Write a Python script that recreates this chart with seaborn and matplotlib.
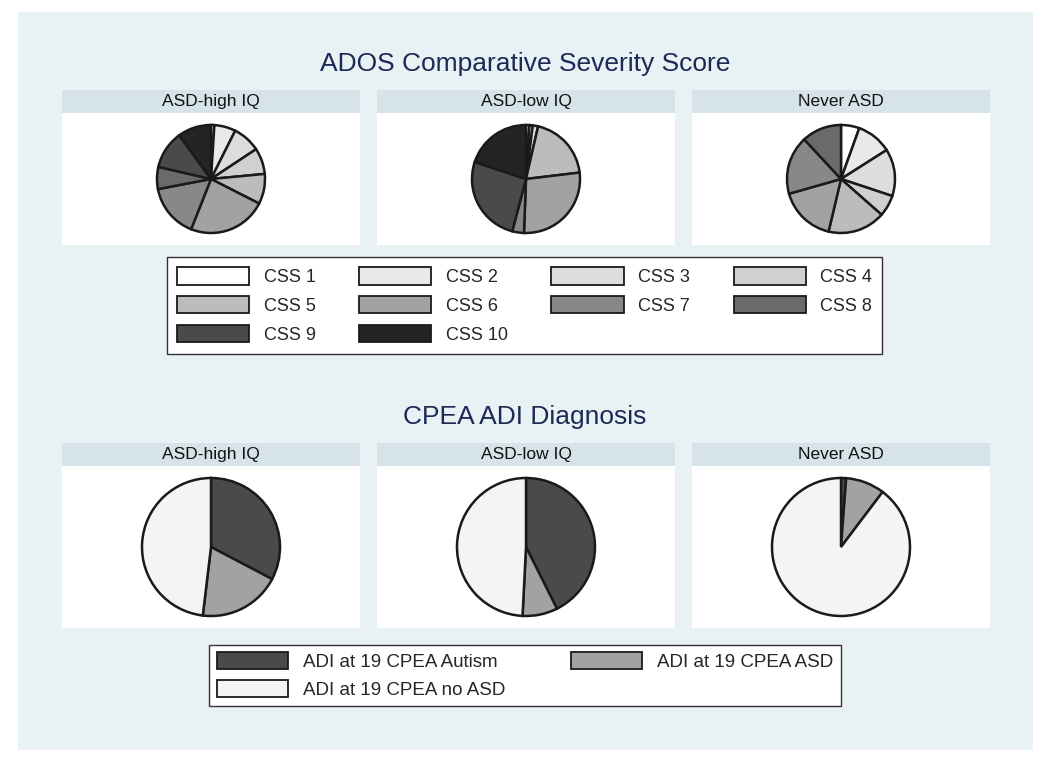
import matplotlib
matplotlib.use("Agg")
import matplotlib.pyplot as plt
import seaborn as sns
from matplotlib.patches import Patch, Rectangle

# data (percent of each group)
groups = ["ASD-high IQ", "ASD-low IQ", "Never ASD"]

css_labels = ["CSS 1", "CSS 2", "CSS 3", "CSS 4", "CSS 5",
              "CSS 6", "CSS 7", "CSS 8", "CSS 9", "CSS 10"]
css_high_iq = [1.0, 6.4, 8.3, 7.8, 9.0, 23.5, 16.0, 6.6, 11.4, 10.0]
css_low_iq = [1.0, 1.0, 1.6, 0.0, 19.5, 27.5, 3.5, 0.0, 26.0, 19.9]
css_never = [5.5, 10.5, 14.1, 6.4, 17.2, 16.9, 17.5, 11.9, 0.0, 0.0]

adi_labels = ["ADI at 19 CPEA Autism", "ADI at 19 CPEA ASD", "ADI at 19 CPEA no ASD"]
adi_high_iq = [32.7, 19.2, 48.1]
adi_low_iq = [42.6, 8.2, 49.2]
adi_never = [1.2, 9.1, 89.7]

css_colors = ["#ffffff", "#e9e9e9", "#dddddd", "#d0d0d0", "#bcbcbc",
              "#a2a2a2", "#888888", "#6a6a6a", "#4a4a4a", "#242424"]
adi_colors = ["#4a4a4a", "#a2a2a2", "#f4f4f4"]

sns.set_theme(style="white")
plt.rcParams["font.family"] = ["Liberation Sans", "DejaVu Sans"]

W, H = 1050, 763
fig = plt.figure(figsize=(W / 100, H / 100), dpi=100)
fig.patch.set_facecolor("white")


def box(x0, y0, x1, y1):
    return [x0 / W, 1 - y1 / H, (x1 - x0) / W, (y1 - y0) / H]


fig.patches.append(Rectangle((18 / W, 1 - 750 / H), (1033 - 18) / W, (750 - 12) / H,
                             transform=fig.transFigure, facecolor="#e8f1f3",
                             edgecolor="none", zorder=-10))

title_color = "#1c2a55"
cols = [(62, 360), (377, 675), (692, 990)]


def draw_row(values_list, colors, header_y, plot_y, radius, title, title_y):
    fig.text(0.5, 1 - title_y / H, title, ha="center", va="center",
             fontsize=19, color=title_color)
    for (x0, x1), name, vals in zip(cols, groups, values_list):
        hax = fig.add_axes(box(x0, header_y[0], x1, header_y[1]))
        hax.set_facecolor("#d6e3e8")
        hax.set_xticks([])
        hax.set_yticks([])
        for s in hax.spines.values():
            s.set_visible(False)
        hax.text(0.5, 0.5, name, ha="center", va="center", fontsize=12.5,
                 color="#111111", transform=hax.transAxes)

        pax = fig.add_axes(box(x0, plot_y[0], x1, plot_y[1]))
        pax.set_facecolor("white")
        pax.set_xticks([])
        pax.set_yticks([])
        for s in pax.spines.values():
            s.set_visible(False)

        cx = (x0 + x1) / 2
        cy = (plot_y[0] + plot_y[1]) / 2
        r = radius + 3
        ax = fig.add_axes(box(cx - r, cy - r, cx + r, cy + r))
        keep = [(v, c) for v, c in zip(vals, colors) if v > 0]
        ax.pie([v for v, _ in keep], colors=[c for _, c in keep],
               startangle=90, counterclock=False, radius=1,
               wedgeprops=dict(edgecolor="#1a1a1a", linewidth=1.8))
        lim = r / radius
        ax.set_xlim(-lim, lim)
        ax.set_ylim(-lim, lim)
        ax.set_aspect("equal")
        ax.axis("off")


draw_row([css_high_iq, css_low_iq, css_never], css_colors,
         (90, 113), (113, 245), 54, "ADOS Comparative Severity Score", 64)
draw_row([adi_high_iq, adi_low_iq, adi_never], adi_colors,
         (443, 466), (466, 628), 69, "CPEA ADI Diagnosis", 417)

# legends (matplotlib fills columns first, so reorder to read across rows)
css_handles = [Patch(facecolor=c, edgecolor="#1a1a1a", linewidth=1.3, label=l)
               for c, l in zip(css_colors, css_labels)]
order = [0, 4, 8, 1, 5, 9, 2, 6, 3, 7]
leg1 = fig.legend([css_handles[i] for i in order], [css_labels[i] for i in order],
                  ncol=4, loc="center", mode="expand",
                  bbox_to_anchor=box(167, 258, 882, 353),
                  fontsize=13, handlelength=4.0, handleheight=1.1,
                  handletextpad=0.8, labelspacing=0.55, borderpad=0.55,
                  borderaxespad=0.0,
                  frameon=True, fancybox=False, edgecolor="#333333",
                  facecolor="white", framealpha=1)
leg1.get_frame().set_linewidth(1.0)

adi_handles = [Patch(facecolor=c, edgecolor="#1a1a1a", linewidth=1.3, label=l)
               for c, l in zip(adi_colors, adi_labels)]
order2 = [0, 2, 1]
leg2 = fig.legend([adi_handles[i] for i in order2], [adi_labels[i] for i in order2],
                  ncol=2, loc="center", mode="expand",
                  bbox_to_anchor=box(209, 643, 841, 708),
                  fontsize=13.5, handlelength=3.8, handleheight=1.0,
                  handletextpad=0.8, labelspacing=0.45, borderpad=0.4,
                  borderaxespad=0.0,
                  frameon=True, fancybox=False, edgecolor="#333333",
                  facecolor="white", framealpha=1)
leg2.get_frame().set_linewidth(1.0)

fig.savefig("out.png", dpi=100)
